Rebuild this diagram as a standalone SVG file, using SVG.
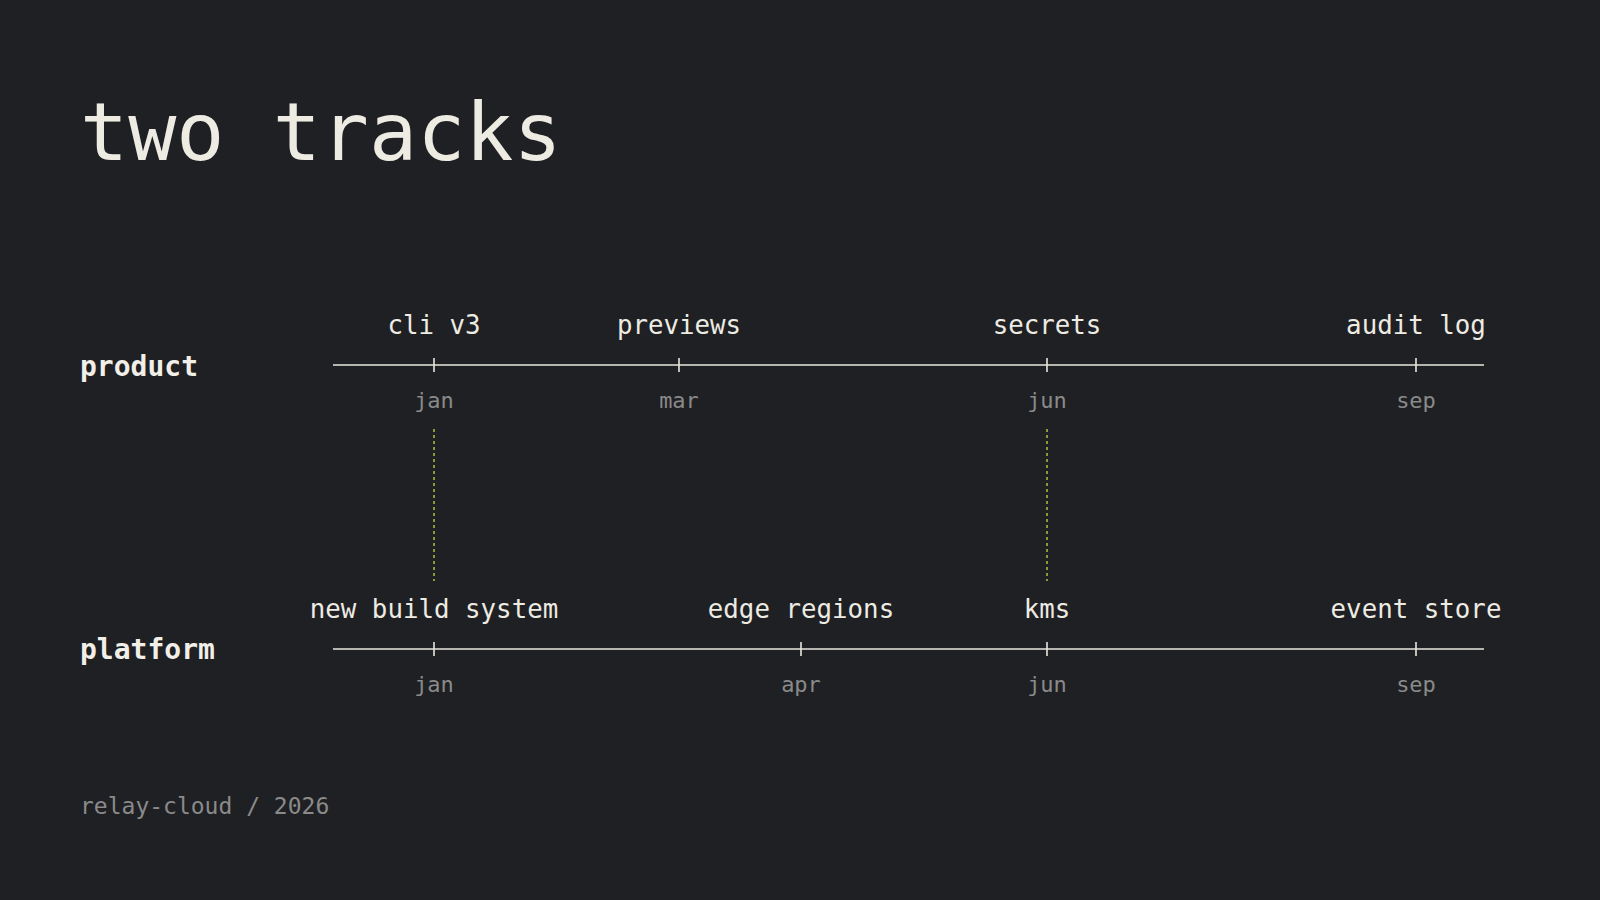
<svg xmlns="http://www.w3.org/2000/svg" width="1600" height="900" viewBox="0 0 1600 900">
<style>
text{font-family:"DejaVu Sans Mono","Liberation Mono",monospace}
.t{fill:#eeebe3}
.ev{fill:#eeebe3;font-size:25.8px;text-anchor:middle}
.mo{fill:#8a8a8a;font-size:22px;text-anchor:middle}
.lab{fill:#f2efe8;font-size:28px;font-weight:bold}
.ax{stroke:#e8e5de;stroke-width:1.6;fill:none}
.dash{stroke:#c9d84a;stroke-width:1.3;stroke-dasharray:3 3;fill:none}
</style>
<rect width="1600" height="900" fill="#1f2023"/>
<text x="80" y="160" class="t" font-size="80">two tracks</text>
<g id="product-track">
<text x="80" y="376" class="lab">product</text>
<path class="ax" d="M333 365H1484M434 358V372M679 358V372M1047 358V372M1416 358V372"/>
</g>
<g id="p-jan"><text x="434" y="334" class="ev">cli v3</text><text x="434" y="408" class="mo">jan</text></g>
<g id="p-mar"><text x="679" y="334" class="ev">previews</text><text x="679" y="408" class="mo">mar</text></g>
<g id="p-jun"><text x="1047" y="334" class="ev">secrets</text><text x="1047" y="408" class="mo">jun</text></g>
<g id="p-sep"><text x="1416" y="334" class="ev">audit log</text><text x="1416" y="408" class="mo">sep</text></g>
<g id="platform-track">
<text x="80" y="659" class="lab">platform</text>
<path class="ax" d="M333 649H1484M434 642V656M801 642V656M1047 642V656M1416 642V656"/>
</g>
<g id="f-jan"><text x="434" y="618" class="ev">new build system</text><text x="434" y="692" class="mo">jan</text></g>
<g id="f-apr"><text x="801" y="618" class="ev">edge regions</text><text x="801" y="692" class="mo">apr</text></g>
<g id="f-jun"><text x="1047" y="618" class="ev">kms</text><text x="1047" y="692" class="mo">jun</text></g>
<g id="f-sep"><text x="1416" y="618" class="ev">event store</text><text x="1416" y="692" class="mo">sep</text></g>
<g id="connectors">
<path class="dash" d="M434 429V581M1047 429V581"/>
</g>
<text x="80" y="814" fill="#8a8a8a" font-size="23">relay-cloud / 2026</text>
</svg>
